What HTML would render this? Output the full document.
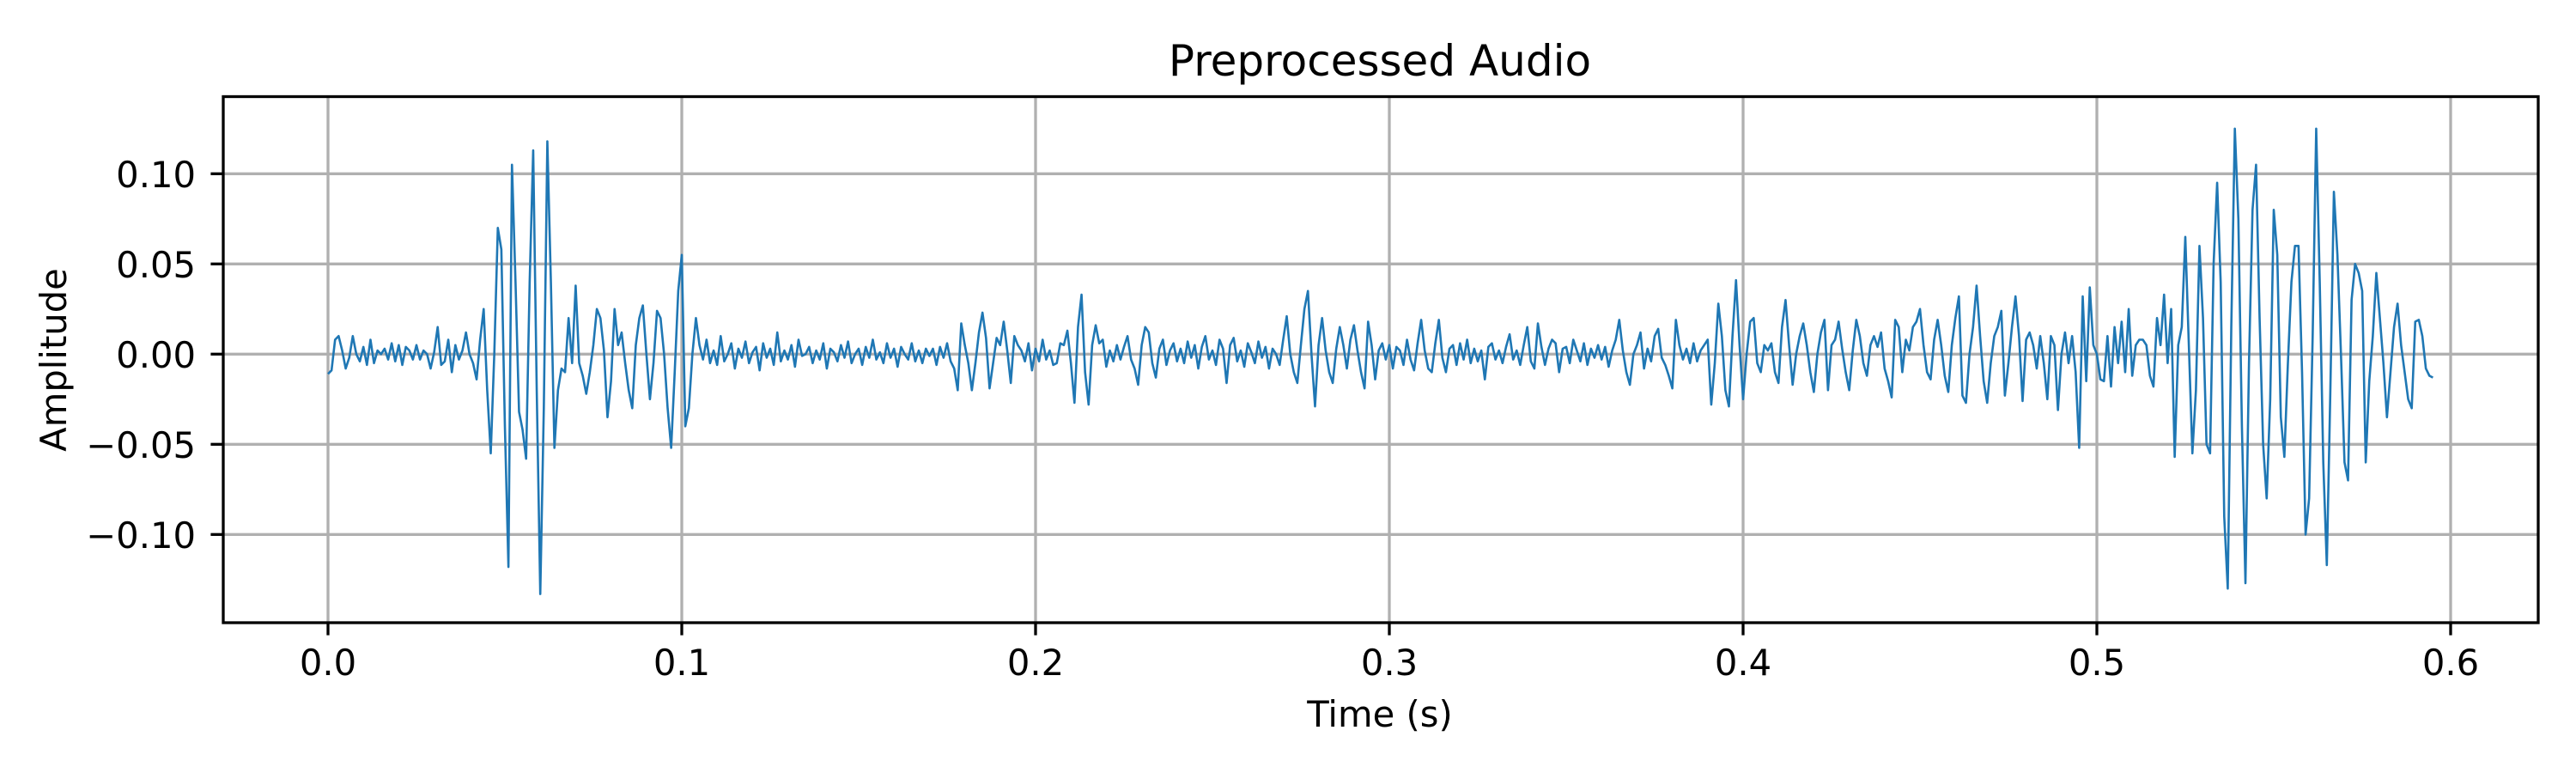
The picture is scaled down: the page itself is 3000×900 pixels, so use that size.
<!DOCTYPE html>
<html>
<head>
<meta charset="utf-8">
<style>
  html, body { margin: 0; padding: 0; background: #ffffff; }
  svg { display: block; }
  text { font-family: "DejaVu Sans", "Liberation Sans", sans-serif; fill: #000; }
</style>
</head>
<body>
<svg id="chart" width="3000" height="900" viewBox="0 0 3000 900" xmlns="http://www.w3.org/2000/svg">
  <rect x="0" y="0" width="3000" height="900" fill="#ffffff"/>
  <g id="grid"></g>
  <g id="series"></g>
  <g id="axes"></g>
  <text x="1607" y="88" font-size="50" text-anchor="middle">Preprocessed Audio</text>
  <text x="1607" y="846" font-size="41.7" text-anchor="middle">Time (s)</text>
  <text x="0" y="0" font-size="41.7" text-anchor="middle" transform="translate(77,419) rotate(-90)">Amplitude</text>
</svg>
<script>
// ---- data ----
const sampleStep = 0.001; // seconds between samples
const ampUnit = 0.001;    // amplitude values below are in thousandths
const amplitude = [
-11,-9,8,10,2,-8,-2,10,0,-4,4,-6,8,-5,2,0,3,-3,6,-4,5,-6,4,2,-3,5,-3,2,0,-8,1,15,-6,-4,8,-10,5,-3,2,12,0,-5,-14,8,25,
-20,-55,0,70,58,-40,-118,105,40,-32,-42,-58,40,113,-20,-133,-30,118,40,-52,-20,-8,-10,20,-5,38,-5,-12,-22,-10,5,25,20,2,-35,-15,25,5,12,-5,-20,-30,5,20,27,0,-25,-5,24,20,0,-30,-52,-10,35,55,-40,-30,0,20,
5,-3,8,-5,2,-6,10,-4,0,6,-8,3,-2,7,-5,1,4,-9,6,-2,3,-6,12,-4,2,-3,5,-7,8,-1,0,4,-5,2,-3,6,-8,3,1,-4,5,-2,7,-5,0,3,-6,4,-2,8,-3,1,-5,6,-2,3,-7,4,0,-3,6,-4,2,-5,3,-1,
3,-6,4,-2,6,-4,-8,-20,17,5,-5,-20,-5,12,23,9,-19,-5,9,5,18,2,-16,10,5,2,-4,6,-9,
3,-4,8,-3,2,-6,-5,6,5,13,-5,-27,15,33,-10,-28,5,16,6,8,-7,2,-4,5,-3,4,10,-3,-8,-17,5,15,12,-5,-13,3,8,-6,2,6,-4,
3,-5,7,-2,5,-8,4,10,-3,2,-6,8,3,-16,5,9,-4,2,-7,6,1,-5,7,-2,4,-8,3,0,-6,
8,21,0,-10,-16,5,25,35,0,-29,5,20,2,-10,-16,3,15,5,-8,8,16,2,-10,-19,18,5,-14,2,6,-3,
5,-8,4,2,-6,8,-3,-9,6,19,2,-8,-10,6,19,-2,-10,3,5,-6,6,-3,8,-5,3,-4,2,-14,4,6,-3,2,-5,4,11,-3,2,-6,5,15,-4,-8,17,4,-6,3,8,6,-10,3,
4,-5,8,2,-4,6,-6,3,-2,5,-3,4,-7,2,8,19,2,-10,-17,0,5,12,-8,3,-4,10,14,-2,-6,-12,-19,19,5,-3,3,-5,6,-4,2,5,8,-28,-5,28,10,-20,-29,10,41,5,
-25,0,18,20,-5,-10,5,2,6,-10,-16,15,30,5,-17,0,10,17,5,-10,-21,0,12,19,-20,5,8,18,3,-10,-20,2,19,10,-5,-12,5,10,4,12,-8,-15,-24,19,15,-10,8,2,15,18,
25,5,-10,-14,8,19,5,-12,-21,5,20,32,-23,-27,0,15,38,10,-15,-27,-5,10,15,24,-23,-5,15,32,10,-26,8,12,5,-8,10,-5,-25,10,5,-31,0,12,-5,10,-10,-52,32,-15,37,5,
0,-14,-15,10,-18,15,-5,18,-10,25,-12,5,8,8,5,-12,-18,20,5,33,-5,25,-57,5,15,65,5,-55,-20,60,20,-50,-55,50,95,40,-90,-130,15,125,75,-40,-127,-5,80,105,20,-50,-80,-25,80,55,-35,-57,-5,40,60,60,-10,-100,-80,10,125,40,-60,-117,-20,90,55,0,-60,-70,30,50,45,35,-60,-15,10,45,20,-5,-35,-10,15,28,5,-10,-25,-30,18,19,10,-8,-12,-13
];
const xTickValues = [0.0, 0.1, 0.2, 0.3, 0.4, 0.5, 0.6];
const xTickLabels = ["0.0", "0.1", "0.2", "0.3", "0.4", "0.5", "0.6"];
const yTickValues = [0.10, 0.05, 0.00, -0.05, -0.10];
const yTickLabels = ["0.10", "0.05", "0.00", "\u22120.05", "\u22120.10"];

// ---- layout ----
const plotLeft = 260, plotRight = 2956, plotTop = 112.5, plotBottom = 725;
const xOrigin = 382, xPerUnit = 4120;
const yOrigin = 412.3, yPerUnit = 2100;
function xScale(t) { return xOrigin + t * xPerUnit; }
function yScale(v) { return yOrigin - v * yPerUnit; }

const NS = "http://www.w3.org/2000/svg";
function mk(tag, attrs) {
  const el = document.createElementNS(NS, tag);
  for (const k in attrs) el.setAttribute(k, attrs[k]);
  return el;
}
const grid = document.getElementById("grid");
const series = document.getElementById("series");
const axes = document.getElementById("axes");

xTickValues.forEach((v, i) => {
  const x = xScale(v);
  const g = mk("line", {x1: x, x2: x, y1: plotTop, y2: plotBottom, stroke: "#b0b0b0", "stroke-width": 3.3});
  
  
  grid.appendChild(g);
});
yTickValues.forEach((v, i) => {
  const y = yScale(v);
  const g = mk("line", {x1: plotLeft, x2: plotRight, y1: y, y2: y, stroke: "#b0b0b0", "stroke-width": 3.3});
  
  
  grid.appendChild(g);
});

let d = "";
amplitude.forEach((a, i) => {
  const x = xScale(i * sampleStep), y = yScale(a * ampUnit);
  d += (i === 0 ? "M" : "L") + x.toFixed(2) + " " + y.toFixed(2);
});
const line = mk("path", {d: d, fill: "none", stroke: "#1f77b4", "stroke-width": 2.6, "stroke-linejoin": "round"});


series.appendChild(line);

const frame = mk("rect", {x: plotLeft, y: plotTop, width: plotRight - plotLeft, height: plotBottom - plotTop, fill: "none", stroke: "#000", "stroke-width": 3.3});


axes.appendChild(frame);

xTickValues.forEach((v, i) => {
  const x = xScale(v);
  const t = mk("line", {x1: x, x2: x, y1: plotBottom, y2: plotBottom + 14.6, stroke: "#000", "stroke-width": 3.3});
  
  
  axes.appendChild(t);
  const lb = mk("text", {x: x, y: 786, "font-size": 41.7, "text-anchor": "middle"});
  lb.textContent = xTickLabels[i];
  
  
  axes.appendChild(lb);
});
yTickValues.forEach((v, i) => {
  const y = yScale(v);
  const t = mk("line", {x1: plotLeft - 14.6, x2: plotLeft, y1: y, y2: y, stroke: "#000", "stroke-width": 3.3});
  
  
  axes.appendChild(t);
  const lb = mk("text", {x: 228, y: y + 15.5, "font-size": 41.7, "text-anchor": "end"});
  lb.textContent = yTickLabels[i];
  
  
  axes.appendChild(lb);
});
</script>
</body>
</html>
